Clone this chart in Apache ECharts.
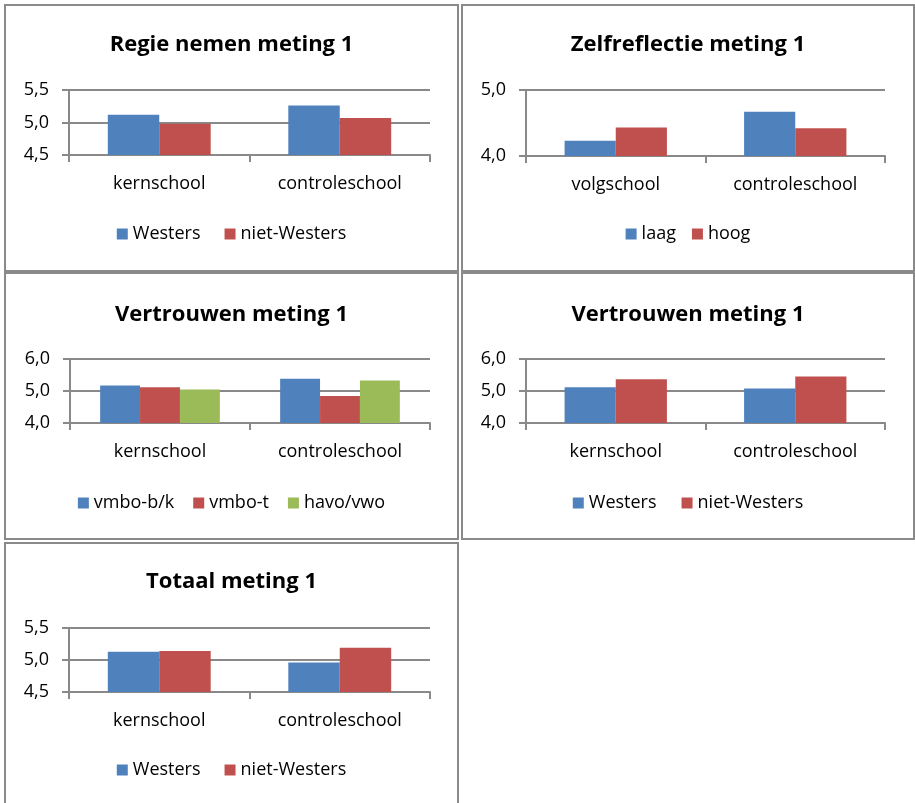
<!DOCTYPE html>
<html>
<head>
<meta charset="utf-8">
<script src="https://cdn.jsdelivr.net/npm/echarts@6/dist/echarts.min.js"></script>
<style>
  html, body { margin: 0; padding: 0; background: #fff; width: 915px; height: 803px; overflow: hidden; }
  .panel { position: absolute; box-sizing: border-box; border: 2px solid #8a8a8a; background: #fff; }
</style>
</head>
<body>
<div id="p1" class="panel" style="left:4px; top:4px; width:455px; height:268px;"></div>
<div id="p2" class="panel" style="left:461px; top:4px; width:454px; height:268px;"></div>
<div id="p3" class="panel" style="left:4px; top:272px; width:455px; height:268px;"></div>
<div id="p4" class="panel" style="left:461px; top:272px; width:454px; height:268px;"></div>
<div id="p5" class="panel" style="left:4px; top:542px; width:455px; height:270px;"></div>
<script>
// Categories
const schoolsKern = ['kernschool', 'controleschool'];
const schoolsVolg = ['volgschool', 'controleschool'];

// Regie nemen meting 1
const regieWesters = [5.12, 5.26];
const regieNietWesters = [4.98, 5.07];

// Zelfreflectie meting 1
const zelfLaag = [4.23, 4.67];
const zelfHoog = [4.43, 4.42];

// Vertrouwen meting 1 (per niveau)
const vertrouwenVmboBK = [5.17, 5.38];
const vertrouwenVmboT = [5.12, 4.84];
const vertrouwenHavoVwo = [5.05, 5.33];

// Vertrouwen meting 1 (per herkomst)
const vertrouwenWesters = [5.12, 5.08];
const vertrouwenNietWesters = [5.37, 5.45];

// Totaal meting 1
const totaalWesters = [5.13, 4.96];
const totaalNietWesters = [5.14, 5.19];

const BLUE = '#4F81BD', RED = '#C0504D', GREEN = '#9BBB59';
const GRID_COLOR = '#898989';
const FONT = '"Open Sans", "Noto Sans", sans-serif';

function fmt(v) { return v.toFixed(1).replace('.', ','); }

function build(el, cfg) {
  const chart = echarts.init(document.getElementById(el), null, { renderer: 'canvas' });
  const series = cfg.series.map(function (s) {
    return {
      name: s.name, type: 'bar', data: s.data,
      barGap: '0%', barCategoryGap: cfg.gap,
      itemStyle: { color: s.color },
      animation: false
    };
  });
  chart.setOption({
    animation: false,
    textStyle: { fontFamily: FONT },
    title: {
      text: cfg.title, left: 'center', top: cfg.titleTop,
      textStyle: { fontFamily: FONT, fontWeight: 'bold', fontSize: 22, color: '#000' }
    },
    legend: {
      data: cfg.series.map(function (s) { return s.name; }),
      left: 'center', top: cfg.legendTop,
      icon: 'rect', itemWidth: 11, itemHeight: 11, itemGap: cfg.legendGap,
      textStyle: { fontFamily: FONT, fontSize: 18, color: '#000' },
      selectedMode: false
    },
    grid: { left: cfg.grid[0], top: cfg.grid[1], width: cfg.grid[2], height: cfg.grid[3], containLabel: false },
    xAxis: {
      type: 'category', data: cfg.categories,
      axisLine: { lineStyle: { color: GRID_COLOR, width: 2 } },
      axisTick: { show: true, length: 7, lineStyle: { color: GRID_COLOR, width: 2 } },
      axisLabel: { color: '#000', fontSize: 18, fontFamily: FONT, margin: 20 }
    },
    yAxis: {
      type: 'value', min: cfg.yMin, max: cfg.yMax, interval: cfg.yStep,
      axisLine: { show: true, lineStyle: { color: GRID_COLOR, width: 2 } },
      axisTick: { show: true, length: 7, lineStyle: { color: GRID_COLOR, width: 2 } },
      splitLine: { lineStyle: { color: GRID_COLOR, width: 2 } },
      axisLabel: { color: '#000', fontSize: 18, fontFamily: FONT, margin: 20, formatter: fmt }
    },
    series: series
  });
}

build('p1', {
  title: 'Regie nemen meting 1', titleTop: 23, legendTop: 214, legendGap: 24,
  grid: [63, 84, 361, 65], yMin: 4.5, yMax: 5.5, yStep: 0.5, gap: '43%',
  categories: schoolsKern,
  series: [
    { name: 'Westers', data: regieWesters, color: BLUE },
    { name: 'niet-Westers', data: regieNietWesters, color: RED }
  ]
});

build('p2', {
  title: 'Zelfreflectie meting 1', titleTop: 23, legendTop: 214, legendGap: 16,
  grid: [63, 84, 359, 66], yMin: 4.0, yMax: 5.0, yStep: 1.0, gap: '43%',
  categories: schoolsVolg,
  series: [
    { name: 'laag', data: zelfLaag, color: BLUE },
    { name: 'hoog', data: zelfHoog, color: RED }
  ]
});

build('p3', {
  title: 'Vertrouwen meting 1', titleTop: 25, legendTop: 215, legendGap: 19,
  grid: [64, 85, 360, 64], yMin: 4.0, yMax: 6.0, yStep: 1.0, gap: '33.5%',
  categories: schoolsKern,
  series: [
    { name: 'vmbo-b/k', data: vertrouwenVmboBK, color: BLUE },
    { name: 'vmbo-t', data: vertrouwenVmboT, color: RED },
    { name: 'havo/vwo', data: vertrouwenHavoVwo, color: GREEN }
  ]
});

build('p4', {
  title: 'Vertrouwen meting 1', titleTop: 25, legendTop: 215, legendGap: 25,
  grid: [63, 85, 359, 64], yMin: 4.0, yMax: 6.0, yStep: 1.0, gap: '43%',
  categories: schoolsKern,
  series: [
    { name: 'Westers', data: vertrouwenWesters, color: BLUE },
    { name: 'niet-Westers', data: vertrouwenNietWesters, color: RED }
  ]
});

build('p5', {
  title: 'Totaal meting 1', titleTop: 22, legendTop: 212, legendGap: 24,
  grid: [63, 84, 361, 64], yMin: 4.5, yMax: 5.5, yStep: 0.5, gap: '43%',
  categories: schoolsKern,
  series: [
    { name: 'Westers', data: totaalWesters, color: BLUE },
    { name: 'niet-Westers', data: totaalNietWesters, color: RED }
  ]
});
</script>
</body>
</html>
